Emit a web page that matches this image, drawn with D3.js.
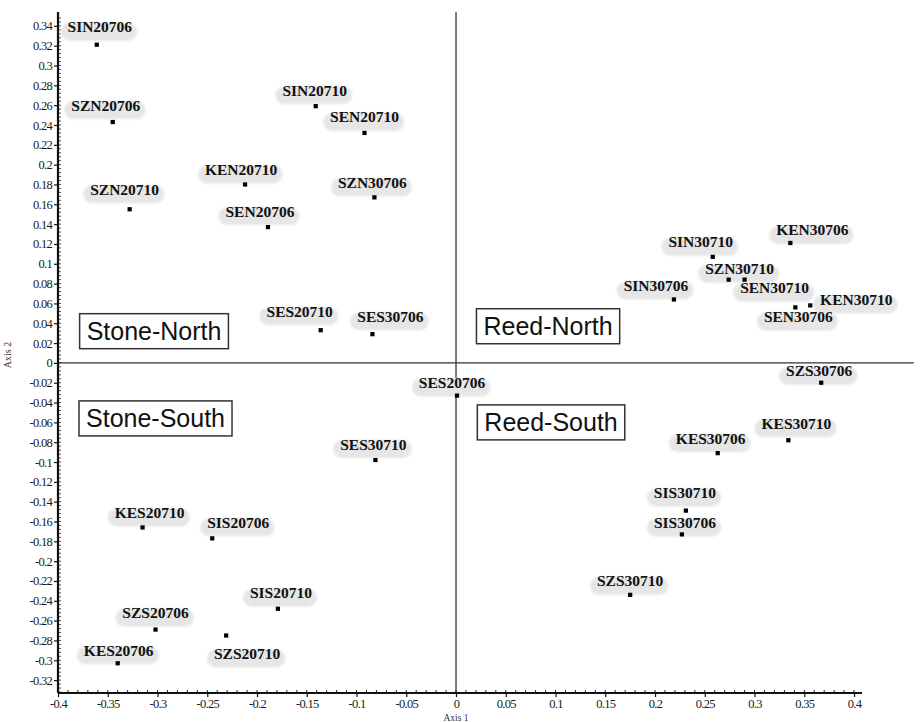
<!DOCTYPE html>
<html>
<head>
<meta charset="utf-8">
<script src="https://cdn.jsdelivr.net/npm/d3@7"></script>
<style>
  html, body { margin: 0; padding: 0; background: #fff; }
  svg { display: block; }
  .serif { font-family: "Liberation Serif", "DejaVu Serif", "Times New Roman", serif; }
  .sans { font-family: "Liberation Sans", Arial, sans-serif; }
</style>
</head>
<body>
<svg id="chart" width="922" height="722"></svg>
<script>
// Sample codes and their ordination scores (Axis 1, Axis 2)
const samples = [
  "SIN20706","SZN20706","SZN20710","SIN20710","SEN20710","KEN20710","SZN30706","SEN20706",
  "SES20710","SES30706","SES20706","SES30710","KES20710","SIS20706","SIS20710","SZS20706",
  "SZS20710","KES20706","KES30706","SIS30710","SIS30706","SZS30710","SZS30706","KES30710",
  "KEN30706","SIN30710","SZN30710","SEN30710","SIN30706","KEN30710","SEN30706"
];
const axis1 = [
  -0.361,-0.345,-0.328,-0.141,-0.092,-0.212,-0.082,-0.189,
  -0.136,-0.084, 0.001,-0.081,-0.315,-0.245,-0.179,-0.302,
  -0.231,-0.340, 0.263, 0.231, 0.227, 0.175, 0.367, 0.334,
   0.336, 0.258, 0.274, 0.290, 0.219, 0.356, 0.341
];
const axis2 = [
   0.321, 0.243, 0.155, 0.259, 0.232, 0.180, 0.167, 0.137,
   0.033, 0.029,-0.033,-0.098,-0.166,-0.177,-0.248,-0.269,
  -0.275,-0.303,-0.091,-0.149,-0.173,-0.234,-0.020,-0.078,
   0.121, 0.107, 0.084, 0.084, 0.064, 0.058, 0.056
];
// Label placement relative to each marker (px)
const labelDx = [
   3,-7,-5,-1, 0,-4,-2,-8,
 -21,18,-5,-2, 7,26, 3, 0,
  21, 1,-7,-1, 3, 0,-2, 8,
  22,-12,11,30,-18,46, 3
];
const labelDy = [
 -18,-17,-20,-16,-16,-15,-15,-16,
 -19,-18,-13,-16,-15,-16,-16,-17,
  18,-13,-15,-18,-12,-14,-12,-17,
 -13,-15,-11, 8,-14,-6, 9
];

// Quadrant captions and their centres in data units
const quadrantNames = ["Stone-North", "Stone-South", "Reed-North", "Reed-South"];
const quadrantX = [-0.3035, -0.302, 0.0925, 0.0955];
const quadrantY = [0.032, -0.056, 0.037, -0.060];

// Axis ticks
const xTicks = d3.range(-40, 41, 5).map(v => v / 100);
const yTicks = d3.range(-32, 35, 2).map(v => v / 100);
const xMinor = d3.range(-40, 41, 1).map(v => v / 100);
const yMinor = d3.range(-332, 352, 4).map(v => v / 1000);

const svg = d3.select("#chart");
const x = d3.scaleLinear().domain([-0.4, 0.408]).range([58, 862]);
const y = d3.scaleLinear().domain([-0.333, 0.354]).range([693, 12]);

const fmt = v => String(+v.toFixed(2));

// Blur for label halos
const defs = svg.append("defs");
defs.append("filter").attr("id", "soft")
  .attr("x", "-20%").attr("y", "-50%").attr("width", "140%").attr("height", "200%")
  .append("feGaussianBlur").attr("stdDeviation", 1.2);

// Zero reference lines
svg.append("line")
  .attr("x1", x(-0.4)).attr("x2", x(0.46))
  .attr("y1", y(0)).attr("y2", y(0))
  .attr("stroke", "#333").attr("stroke-width", 1.4);
svg.append("line")
  .attr("x1", x(0)).attr("x2", x(0))
  .attr("y1", y.range()[1]).attr("y2", y.range()[0])
  .attr("stroke", "#444").attr("stroke-width", 1.4);

// Minor ticks
svg.append("g").selectAll("line").data(xMinor).join("line")
  .attr("x1", d => x(d)).attr("x2", d => x(d))
  .attr("y1", y.range()[0]).attr("y2", y.range()[0] - 3)
  .attr("stroke", "#222").attr("stroke-width", 1);
svg.append("g").selectAll("line").data(yMinor).join("line")
  .attr("x1", x.range()[0]).attr("x2", x.range()[0] + 3)
  .attr("y1", d => y(d)).attr("y2", d => y(d))
  .attr("stroke", "#222").attr("stroke-width", 0.8);

// Axes
const xAxis = svg.append("g")
  .attr("transform", `translate(0,${y.range()[0]})`)
  .call(d3.axisBottom(x).tickValues(xTicks).tickFormat(fmt).tickSize(4).tickPadding(2));
const yAxis = svg.append("g")
  .attr("transform", `translate(${x.range()[0]},0)`)
  .call(d3.axisLeft(y).tickValues(yTicks).tickFormat(fmt).tickSize(4).tickPadding(2));

[xAxis, yAxis].forEach(g => {
  g.attr("font-family", null).attr("font-size", null);
  g.select(".domain").attr("stroke", "#111").attr("stroke-width", 2.2);
  g.selectAll(".tick line").attr("stroke", "#111").attr("stroke-width", 1.2);
  g.selectAll(".tick text")
    .attr("class", "serif")
    .attr("font-size", 12.5)
    .attr("fill", "#1a1a1a")
    .style("letter-spacing", "-0.7px");
});
xAxis.select(".domain").attr("d", `M${x.range()[0]},0H${x.range()[1]}`);
yAxis.select(".domain").attr("d", `M0,${y.range()[0]}V${y.range()[1]}`);

// Axis titles
svg.append("text").attr("class", "serif")
  .attr("x", x(0)).attr("y", 721)
  .attr("text-anchor", "middle").attr("font-size", 9.5)
  .attr("fill", "#333").text("Axis 1");
svg.append("text").attr("class", "serif")
  .attr("transform", `translate(11,${y(0.008)}) rotate(-90)`)
  .attr("text-anchor", "middle").attr("font-size", 10)
  .attr("fill", "#333").text("Axis 2");

// Quadrant captions in boxes
const quad = svg.append("g").selectAll("g").data(quadrantNames).join("g")
  .attr("transform", (d, i) => `translate(${x(quadrantX[i])},${y(quadrantY[i])})`);
quad.append("text").attr("class", "sans")
  .attr("text-anchor", "middle").attr("dominant-baseline", "central")
  .attr("font-size", 25).attr("fill", "#111")
  .text(d => d);
quad.each(function () {
  const g = d3.select(this);
  const bb = g.select("text").node().getBBox();
  g.insert("rect", "text")
    .attr("x", bb.x - 7).attr("y", -17.5)
    .attr("width", bb.width + 14).attr("height", 35)
    .attr("fill", "#fff").attr("stroke", "#333").attr("stroke-width", 1.5);
});

// Sample labels with soft grey halos
const labels = svg.append("g").selectAll("g").data(samples).join("g")
  .attr("transform", (d, i) => `translate(${x(axis1[i]) + labelDx[i]},${y(axis2[i]) + labelDy[i]})`);
labels.append("text").attr("class", "serif")
  .attr("text-anchor", "middle").attr("dominant-baseline", "central")
  .attr("font-weight", "bold").attr("font-size", 15.5)
  .attr("fill", "#111")
  .text(d => d);
labels.each(function () {
  const g = d3.select(this);
  const bb = g.select("text").node().getBBox();
  g.insert("rect", "text")
    .attr("x", bb.x - 7).attr("y", -4)
    .attr("width", bb.width + 12).attr("height", 18)
    .attr("rx", 9)
    .attr("fill", "#e6e6e6")
    .attr("filter", "url(#soft)");
});

// Sample markers
svg.append("g").selectAll("path").data(samples).join("path")
  .attr("transform", (d, i) => `translate(${x(axis1[i])},${y(axis2[i])})`)
  .attr("d", d3.symbol(d3.symbolSquare, 18))
  .attr("fill", "#000");
</script>
</body>
</html>
